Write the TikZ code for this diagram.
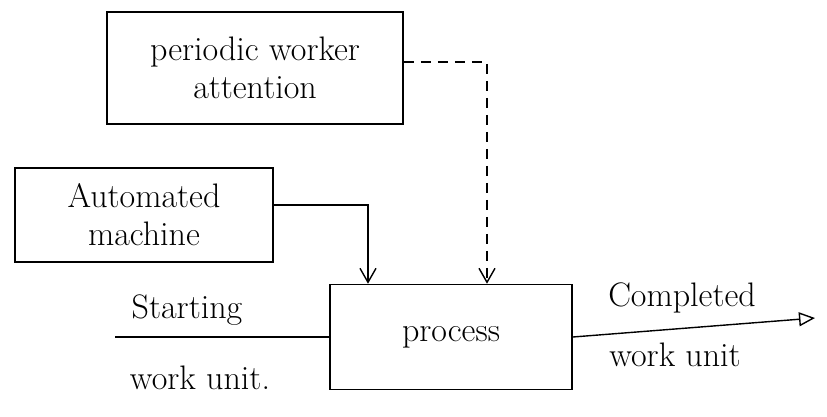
\documentclass[tikz,border=0pt]{standalone}
\usetikzlibrary{arrows.meta}
\begin{document}
\begin{tikzpicture}[x=1pt,y=-1pt,
  box/.style={draw, line width=1.6pt, inner sep=0pt, align=center,
    font=\fontsize{34}{38}\selectfont},
  lbl/.style={font=\fontsize{34}{38}\selectfont, inner sep=0pt},
  flow/.style={line width=1.4pt, -{Straight Barb[length=14pt,width=16pt,line width=1.4pt]}},
  outflow/.style={line width=1.4pt, -{Triangle[open,length=16pt,width=14pt,line width=1.4pt]}},
  ]
\useasboundingbox (0,0) rectangle (827,416);

% blocks
\node[box, minimum width=296pt, minimum height=112pt] (pwa) at (255,68)
  {periodic worker\\attention};
\node[box, minimum width=258pt, minimum height=94pt] (aut) at (144,215)
  {Automated\\machine};
\node[box, minimum width=242pt, minimum height=105pt] (proc) at (451,337)
  {process};

% free ends of the work-unit lines
\coordinate (sw) at (115,337);
\coordinate (cw) at (815,318);

% inputs from above
\draw[flow] ([yshift=10pt]aut.east) -| ([xshift=-83pt]proc.north);
\draw[flow, dash pattern=on 10pt off 7pt] ([yshift=6pt]pwa.east) -| ([xshift=36pt]proc.north);

% work-unit flow
\draw[line width=1.4pt] (sw) -- (proc.west);
\draw[outflow] (proc.east) -- (cw);

% labels
\node[lbl] (st1) at (187,310) {Starting};
\node[lbl] (st2) at (200,378) {work unit.};
\node[lbl] (cp1) at (682,298) {Completed};
\node[lbl] (cp2) at (675,355) {work unit};
\end{tikzpicture}
\end{document}
